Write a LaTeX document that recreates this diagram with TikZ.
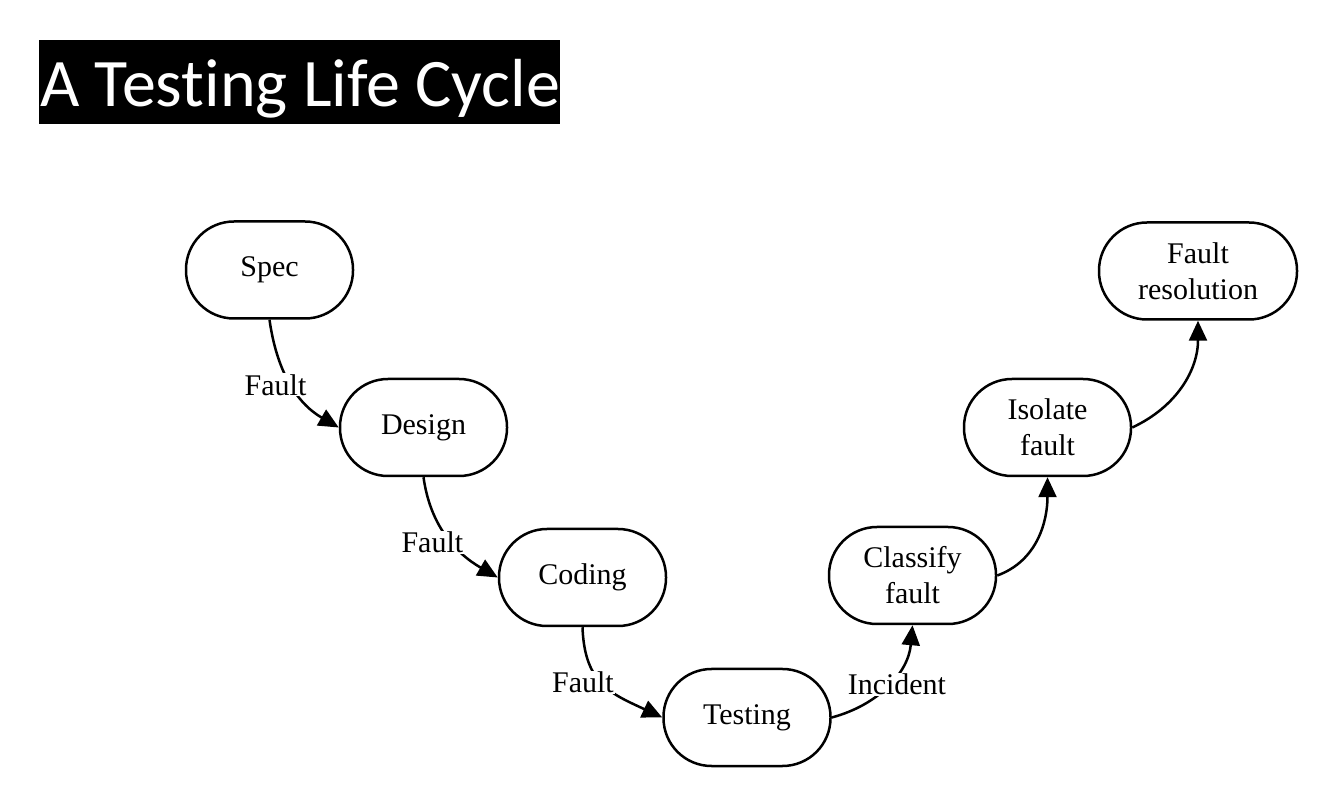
\documentclass[tikz,border=0pt]{standalone}
\usepackage{fontspec}
\setmainfont{Liberation Serif}
\newfontfamily\titlefont[Ligatures=NoCommon]{Carlito}
\usetikzlibrary{arrows.meta}
\begin{document}
\begin{tikzpicture}[x=1pt,y=1pt,
  stage/.style={draw=black, line width=2.5pt, rectangle, rounded corners=48pt,
    minimum width=167pt, minimum height=97pt, align=center,
    font=\fontsize{30}{36}\selectfont, inner sep=2pt},
  lbl/.style={fill=white, inner sep=1pt, font=\fontsize{30}{36}\selectfont},
  arr/.style={line width=2.5pt, -{Triangle[length=20pt,width=18pt]}}]
\useasboundingbox (0,0) rectangle (1319,784);
% title
\fill[black] (39,660) rectangle (560,744);
\node[anchor=base west, inner sep=0pt, text=white, font=\titlefont\fontsize{68}{72}\selectfont] (title) at (40,677) {A Testing Life Cycle};
% stages
\node[stage] (spec) at (269.5,514) {Spec};
\node[stage] (design) at (423.5,356.5) {Design};
\node[stage] (coding) at (582.5,206.5) {Coding};
\node[stage] (testing) at (747,66.5) {Testing};
\node[stage] (classify) at (912.5,208.5) {Classify\\fault};
\node[stage] (isolate) at (1047.5,356.5) {Isolate\\fault};
\node[stage, minimum width=198pt] (resol) at (1198,513) {Fault\\resolution};
% connectors
\draw[arr] (spec.south) to[out=-82,in=150] node[lbl,xshift=-15pt,yshift=-2pt] (l1) {Fault} (design.west);
\draw[arr] (design.south) to[out=-82,in=150] node[lbl,xshift=-15pt,yshift=-6pt] (l2) {Fault} (coding.west);
\draw[arr] (coding.south) to[out=-88,in=155,looseness=1.2] node[lbl,xshift=-21pt,yshift=2pt] (l3) {Fault} (testing.west);
\draw[arr] (testing.east) to[out=15,in=-95] node[lbl,xshift=9pt] (l4) {Incident} (classify.south);
\draw[arr] (classify.east) to[out=20,in=-90] (isolate.south);
\draw[arr] (isolate.east) to[out=25,in=-90] (resol.south);
\end{tikzpicture}
\end{document}
